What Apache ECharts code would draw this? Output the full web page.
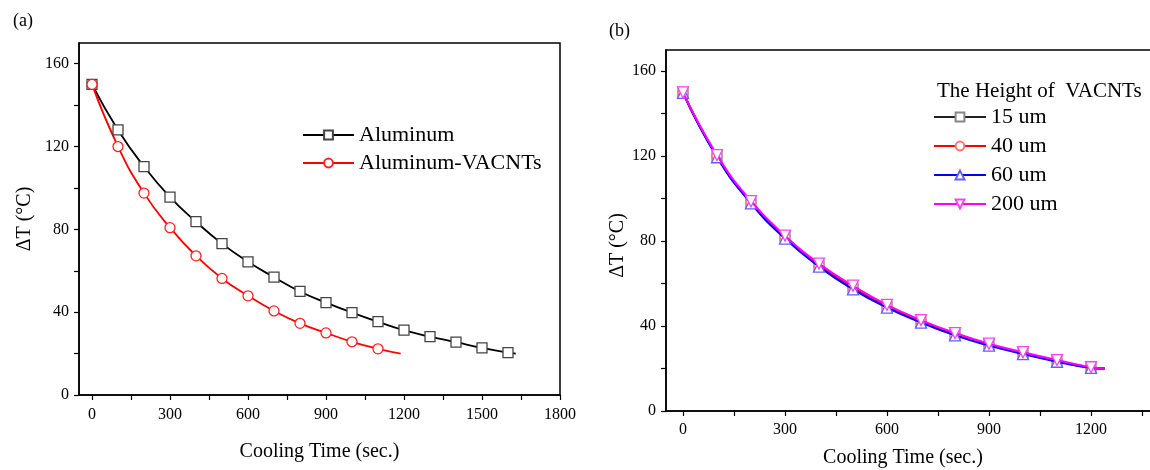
<!DOCTYPE html>
<html>
<head>
<meta charset="utf-8">
<script src="https://cdn.jsdelivr.net/npm/echarts@6/dist/echarts.min.js"></script>
<style>
html,body{margin:0;padding:0;background:#fff;overflow:hidden;width:1150px;height:470px;}
#chart{width:1200px;height:470px;}
</style>
</head>
<body>
<div id="chart"></div>
<script>
// ---------- data: panel (a) ----------
var timeA = [0,100,200,300,400,500,600,700,800,900,1000,1100,1200,1300,1400,1500,1600];
var aluminum = [150,128,110.3,95.6,83.7,73.1,64.3,56.9,50.0,44.6,39.8,35.4,31.3,28.2,25.5,22.8,20.5];
var aluminumEnd = [1630,20];
var timeA2 = [0,100,200,300,400,500,600,700,800,900,1000,1100];
var aluminumVACNTs = [150,120,97.5,80.8,67.2,56.3,47.9,40.6,34.6,30.0,25.7,22.3];
var aluminumVACNTsEnd = [1187,20];

// ---------- data: panel (b) ----------
var timeB = [0,100,200,300,400,500,600,700,800,900,1000,1100,1200];
var h15 = [150,120,98,82,68.5,58,49.2,42,36,31.2,27.2,23.5,20.5];
var h40 = [150,120.2,98.3,82,68.8,58.3,49.5,42.3,36.2,31.3,27.3,23.6,20.4];
var h60 = [149.8,119.5,97.8,81.2,68,57.3,48.7,41.6,35.6,30.8,26.8,23.2,20.3];
var h200 = [150,120.5,98.8,82.6,69.4,59,50,42.8,36.7,31.7,27.7,24,20.6];
var endB = [1240,20];

// ---------- ticks ----------
var xTicksA = [0,150,300,450,600,750,900,1050,1200,1350,1500,1650,1800];
var xLabelsA = [0,300,600,900,1200,1500,1800];
var xTicksB = [0,150,300,450,600,750,900,1050,1200,1350];
var xLabelsB = [0,300,600,900,1200];
var yTicks = [0,20,40,60,80,100,120,140,160];
var yLabels = [0,40,80,120,160];

var seriesNamesA = ['Aluminum','Aluminum-VACNTs'];
var seriesNamesB = ['15 um','40 um','60 um','200 um'];
var legendTitleB = 'The Height of  VACNTs';

function pairs(xs, ys, end){
  var d = xs.map(function(x,i){return [x, ys[i]];});
  if (end) d.push({value: end, symbol: 'none'});
  return d;
}

var FONT = 'Liberation Serif';
var invTri = 'path://M0,0 L10,0 L5,9 Z';
function plain(v){ return String(v); }

function xAxisCfg(grid, min, max, ticks, labels, nameShift, nameGap, margin){
  return {
    type:'value', gridIndex:grid, min:min, max:max,
    name:'Cooling Time (sec.)', nameLocation:'middle', nameGap:nameGap,
    nameTextStyle:{fontFamily:FONT,fontSize:20,color:'#000',padding:[0,nameShift||0,0,0]},
    axisLine:{show:true,onZero:false,lineStyle:{color:'#000',width:1.5}},
    axisTick:{show:true,inside:false,length:5,lineStyle:{color:'#000',width:1.2},customValues:ticks},
    axisLabel:{fontFamily:FONT,fontSize:16,color:'#000',margin:margin,customValues:labels,formatter:plain},
    splitLine:{show:false}
  };
}
function yAxisCfg(grid, nameGap, shiftDown){
  return {
    type:'value', gridIndex:grid, min:0, max:170,
    name:'\u0394T (\u00B0C)', nameLocation:'middle', nameGap:nameGap,
    nameTextStyle:{fontFamily:FONT,fontSize:20,color:'#000',padding:[0,shiftDown||0,0,0]},
    axisLine:{show:true,onZero:false,lineStyle:{color:'#000',width:1.5}},
    axisTick:{show:true,inside:false,length:5,lineStyle:{color:'#000',width:1.2},customValues:yTicks},
    axisLabel:{fontFamily:FONT,fontSize:16,color:'#000',margin:10,customValues:yLabels,formatter:plain},
    splitLine:{show:false}
  };
}

function lineSeries(name, xi, yi, data, color, symbol, borderColor, size, width, z){
  return {
    name:name, type:'line', xAxisIndex:xi, yAxisIndex:yi,
    data:data, smooth:0.5,
    symbol:symbol, symbolSize:size, showAllSymbol:true,
    color:color,
    lineStyle:{color:color,width:width},
    itemStyle:{color:'#fff',borderColor:borderColor,borderWidth:1.3},
    emphasis:{disabled:true}, z:z, animation:false
  };
}

var option = {
  backgroundColor:'#fff',
  animation:false,
  title:[
    {text:'(a)', left:8, top:7, textStyle:{fontFamily:FONT,fontSize:18,fontWeight:'normal',color:'#000'}},
    {text:'(b)', left:604, top:17, textStyle:{fontFamily:FONT,fontSize:18,fontWeight:'normal',color:'#000'}},
    {text:legendTitleB, left:932, top:76, textStyle:{fontFamily:FONT,fontSize:21,fontWeight:'normal',color:'#000'}}
  ],
  grid:[
    {left:79, top:43, width:481, height:352, show:true, borderColor:'#000', borderWidth:1.5, containLabel:false, outerBoundsMode:'none'},
    {left:666, top:50, width:510, height:361, show:true, borderColor:'#000', borderWidth:1.5, containLabel:false, outerBoundsMode:'none'}
  ],
  legend:[
    {data:seriesNamesA, orient:'vertical', left:302, top:124, padding:0, itemWidth:51, itemHeight:11, itemGap:6,
     textStyle:{fontFamily:FONT,fontSize:22,color:'#000',lineHeight:22}, selectedMode:false},
    {data:seriesNamesB, orient:'vertical', left:933, top:106, padding:0, itemWidth:52, itemHeight:11, itemGap:7,
     textStyle:{fontFamily:FONT,fontSize:22,color:'#000',lineHeight:22}, selectedMode:false}
  ],
  xAxis:[
    xAxisCfg(0,-50,1800,xTicksA,xLabelsA,0,47,12),
    xAxisCfg(1,-50,1450,xTicksB,xLabelsB,36,37,11)
  ],
  yAxis:[
    yAxisCfg(0,44,0),
    yAxisCfg(1,36,30)
  ],
  series:[
    lineSeries(seriesNamesA[0],0,0,pairs(timeA,aluminum,aluminumEnd),'#000','rect','#444',10,1.8,3),
    lineSeries(seriesNamesA[1],0,0,pairs(timeA2,aluminumVACNTs,aluminumVACNTsEnd),'#ff0000','circle','#ff2020',10,1.8,3),
    lineSeries(seriesNamesB[0],1,1,pairs(timeB,h15,endB),'#222','rect','#888',10,2,3),
    lineSeries(seriesNamesB[1],1,1,pairs(timeB,h40,endB),'#ff0000','circle','#ff7070',10,2,4),
    lineSeries(seriesNamesB[2],1,1,pairs(timeB,h60,endB),'#0000ff','triangle','#6060ff',11,2,5),
    lineSeries(seriesNamesB[3],1,1,pairs(timeB,h200,endB),'#ff00ff',invTri,'#ff40ff',11,2,6)
  ]
};

var chart = echarts.init(document.getElementById('chart'), null, {renderer:'canvas'});
chart.setOption(option);
</script>
</body>
</html>
